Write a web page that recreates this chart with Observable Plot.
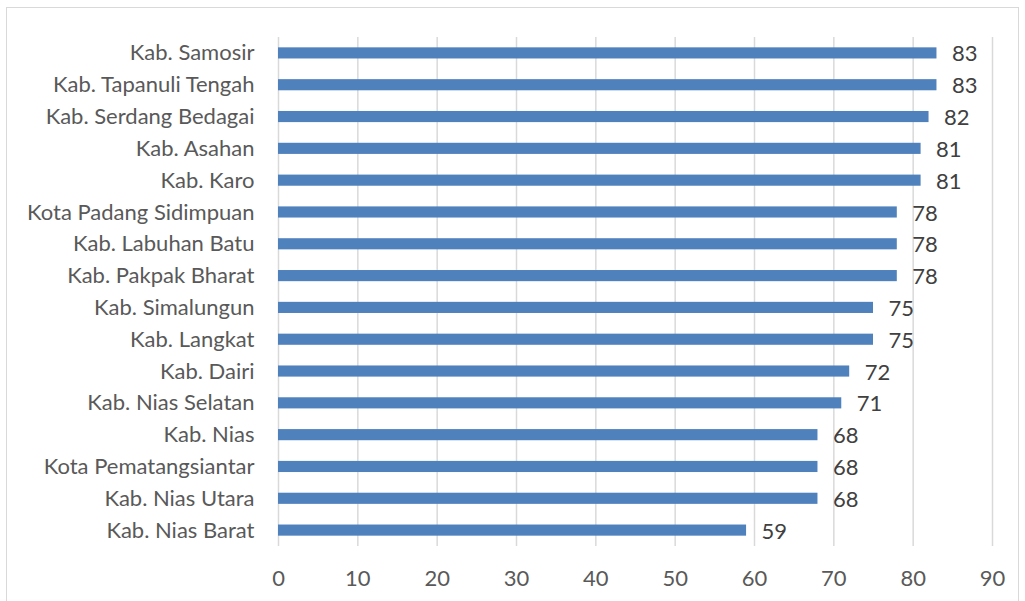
<!DOCTYPE html>
<html><head><meta charset="utf-8">
<script src="https://cdn.jsdelivr.net/npm/d3@7"></script>
<script src="https://cdn.jsdelivr.net/npm/@observablehq/plot@0.6"></script>
<style>
body{margin:0;background:#fff;}
#wrap{position:relative;width:1025px;height:601px;overflow:hidden;}
#border{position:absolute;left:6px;top:7px;width:1013px;height:600px;border:1px solid #d9d9d9;box-sizing:border-box;pointer-events:none;}
svg{position:absolute;left:0;top:0;}
</style></head>
<body><div id="wrap"><div id="border"></div></div>
<script>
const regions = ["Kab. Samosir","Kab. Tapanuli Tengah","Kab. Serdang Bedagai","Kab. Asahan","Kab. Karo","Kota Padang Sidimpuan","Kab. Labuhan Batu","Kab. Pakpak Bharat","Kab. Simalungun","Kab. Langkat","Kab. Dairi","Kab. Nias Selatan","Kab. Nias","Kota Pematangsiantar","Kab. Nias Utara","Kab. Nias Barat"];
const values = [83,83,82,81,81,78,78,78,75,75,72,71,68,68,68,59];
const xTicks = [0,10,20,30,40,50,60,70,80,90];

const data = regions.map((r,i)=>({region:r, value:values[i]}));
const font = "Lato, 'Open Sans', sans-serif";
const fs = 22;

const chart = Plot.plot({
  width: 1025, height: 601,
  marginLeft: 278, marginRight: 33, marginTop: 37, marginBottom: 55,
  style: {fontFamily: font, fontSize: fs + "px", color: "#595959", background: "transparent"},
  x: {domain: [0,90], ticks: xTicks, label: null},
  y: {domain: regions, label: null, paddingInner: 0.65, paddingOuter: 0.325, round: false},
  marks: [
    Plot.gridX(xTicks, {stroke: "#d9d9d9", strokeOpacity: 1, strokeWidth: 1.5}),
    Plot.barX(data, {y: "region", x: "value", fill: "#4F81BD"}),
    Plot.text(data, {y: "region", x: "value", text: d => String(d.value), dx: 15, dy: 1, textAnchor: "start", fill: "#404040", fontSize: fs}),
    Plot.axisX(xTicks, {tickSize: 0, tickPadding: 24, fill: "#595959", fontSize: fs}),
    Plot.axisY({tickSize: 0, tickPadding: 24, fill: "#595959", fontSize: fs})
  ]
});
document.getElementById("wrap").appendChild(chart);
</script></body></html>
